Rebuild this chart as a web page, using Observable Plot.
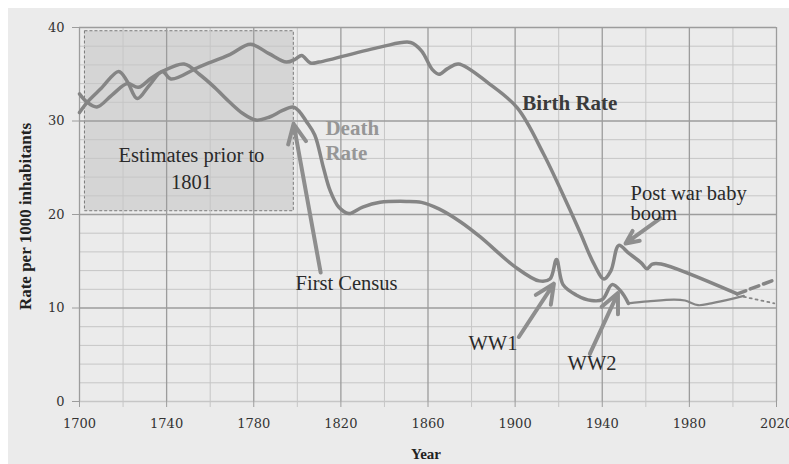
<!DOCTYPE html>
<html><head><meta charset="utf-8">
<script src="https://cdn.jsdelivr.net/npm/d3@7"></script>
<script src="https://cdn.jsdelivr.net/npm/@observablehq/plot@0.6"></script>
<style>
html,body{margin:0;padding:0;background:#fff;}
#panel{position:absolute;left:8px;top:8px;width:781px;height:456px;background:#ebebeb;overflow:hidden}
</style></head><body><div id="panel"></div>
<script>
// ---- data ----
const birthYears = [1700,1703.5,1710,1718,1722,1726.5,1732,1738,1742,1755,1769,1778.5,1787,1795,1799,1802,1806,1810,1838,1852,1857,1862,1865,1869,1874,1888,1901,1913,1924,1930,1936,1940.8,1944,1947.6,1952,1958,1960.5,1963,1967,2002];
const birthRates = [30.9,32.0,33.5,35.3,34.2,32.4,33.8,35.3,34.5,35.8,37.1,38.2,37.2,36.3,36.6,37.0,36.2,36.3,37.9,38.4,37.5,35.5,35.0,35.6,36.1,34.0,31.4,26.5,21.1,18.0,14.8,13.1,14.0,16.7,15.9,14.8,14.2,14.7,14.7,11.5];

const deathYears = [1700,1703.5,1708,1715,1722,1727,1733,1738,1748,1755,1762,1769,1775,1781,1787,1793,1798,1801,1804,1808,1812,1815,1819,1823.6,1830,1838,1850,1857,1865,1875,1884,1900,1911,1916,1919,1922,1928,1935,1940,1944.5,1948.5,1952];
const deathRates = [32.9,32.0,31.5,32.8,34.0,33.6,34.6,35.3,36.1,35.0,33.6,32.0,30.8,30.1,30.4,31.1,31.5,31.0,30.0,28.5,25.0,22.6,20.8,20.1,20.8,21.3,21.4,21.3,20.6,19.2,17.6,14.4,12.9,13.1,15.2,12.5,11.4,10.8,10.9,12.5,11.8,10.5];

const deathLateYears = [1952,1961,1973,1978,1984,1990,2000,2005];
const deathLateRates = [10.5,10.7,10.9,10.8,10.3,10.5,11.0,11.3];

const projDashYears = [2002,2020];
const projDashRates = [11.5,13.1];
const projDotYears = [2005,2019];
const projDotRates = [11.2,10.5];

const xMajorTicks = [1700,1740,1780,1820,1860,1900,1940,1980,2020];
const xMinorTicks = [1720,1760,1800,1840,1880,1920,1960,2000];
const yMajorTicks = [0,10,20,30,40];
const yMinorTicks = [2,4,6,8,12,14,16,18,22,24,26,28,32,34,36,38];

// estimates region (data coordinates)
const estYearFrom = 1702.5, estYearTo = 1798.4, estRateFrom = 20.35, estRateTo = 39.6;

// annotations
const arrowFromYear = [1810.7,1966.8,1901.7,1934.3];
const arrowFromRate = [13.8,19.6,6.9,5.1];
const arrowToYear = [1798.3,1950.7,1917.8,1947.2];
const arrowToRate = [29.7,16.9,12.6,11.6];

const centerLabels = ["Estimates prior to","1801"];
const centerYears = [1751.4,1751.4];
const centerRates = [26.3,23.4];

const noteLabels = ["First Census","Post war baby","boom","WW1","WW2"];
const noteYears = [1799.2,1953,1953,1878.6,1924.1];
const noteRates = [12.6,22.3,20.1,6.2,4.1];

const zip = (xs, ys) => xs.map((x, i) => ({x, y: ys[i]}));
const birth = zip(birthYears, birthRates);
const death = zip(deathYears, deathRates);
const deathLate = zip(deathLateYears, deathLateRates);
const projDash = zip(projDashYears, projDashRates);
const projDot = zip(projDotYears, projDotRates);
const arrows = arrowFromYear.map((x, i) => ({x1: x, y1: arrowFromRate[i], x2: arrowToYear[i], y2: arrowToRate[i]}));
const centerNotes = centerLabels.map((t, i) => ({t, x: centerYears[i], y: centerRates[i]}));
const notes = noteLabels.map((t, i) => ({t, x: noteYears[i], y: noteRates[i]}));

const serif = "'Liberation Serif', 'DejaVu Serif', serif";
const lineColor = "#858585";

const chart = Plot.plot({
  width: 781, height: 456,
  marginLeft: 71, marginRight: 13, marginTop: 19, marginBottom: 63,
  style: {background: "#ebebeb", overflow: "visible", fontFamily: "'DejaVu Serif', serif", fontSize: "13px", color: "#333"},
  x: {domain: [1700, 2020]},
  y: {domain: [0, 40]},
  marks: [
    Plot.rect([{x1: estYearFrom, x2: estYearTo, y1: estRateFrom, y2: estRateTo}],
      {x1: "x1", x2: "x2", y1: "y1", y2: "y2", fill: "#d5d5d5", stroke: "#7a7a7a", strokeWidth: 1, strokeDasharray: "3,2"}),
    Plot.ruleY(yMinorTicks, {stroke: "#c6c6c6", strokeWidth: 1}),
    Plot.ruleX(xMinorTicks, {stroke: "#c6c6c6", strokeWidth: 1, y1: 0, y2: 40}),
    Plot.ruleY([0], {stroke: "#c6c6c6", strokeWidth: 1.5}),
    Plot.ruleY(yMajorTicks.filter(d => d > 0), {stroke: "#9c9c9c", strokeWidth: 1.3}),
    Plot.ruleX(xMajorTicks, {stroke: "#9c9c9c", strokeWidth: 1.3, y1: 0, y2: 40}),
    Plot.axisX(xMinorTicks, {tickSize: 6, tickFormat: () => "", stroke: "#c6c6c6", label: null}),
    Plot.axisX(xMajorTicks, {tickSize: 6, tickPadding: 11, tickFormat: d => String(d), stroke: "#9c9c9c", fill: "#333", fontSize: 13, label: null}),
    Plot.axisY(yMajorTicks, {tickSize: 7, tickPadding: 8, stroke: "#9c9c9c", fill: "#333", fontSize: 13, label: null}),
    Plot.line(birth, {x: "x", y: "y", stroke: lineColor, strokeWidth: 3.5, curve: "catmull-rom"}),
    Plot.line(death, {x: "x", y: "y", stroke: lineColor, strokeWidth: 3.5, curve: "catmull-rom"}),
    Plot.line(deathLate, {x: "x", y: "y", stroke: lineColor, strokeWidth: 2.2, curve: "catmull-rom"}),
    Plot.line(projDash, {x: "x", y: "y", stroke: lineColor, strokeWidth: 3.5, strokeDasharray: "9,5"}),
    Plot.line(projDot, {x: "x", y: "y", stroke: lineColor, strokeWidth: 1.8, strokeDasharray: "2,4"}),
    Plot.arrow(arrows, {x1: "x1", y1: "y1", x2: "x2", y2: "y2", stroke: "#8e8e8e", strokeWidth: 4, headLength: 8, headAngle: 50}),
    Plot.text(centerNotes, {x: "x", y: "y", text: "t", fontFamily: serif, fontSize: 20.5, fill: "#2a2a2a", textAnchor: "middle", lineAnchor: "middle"}),
    Plot.text(notes, {x: "x", y: "y", text: "t", fontFamily: serif, fontSize: 20.5, fill: "#2a2a2a", textAnchor: "start", lineAnchor: "middle"}),
    Plot.text(["Death"], {x: 1812.9, y: 29.2, fontFamily: serif, fontWeight: "bold", fontSize: 21, fill: "#969696", textAnchor: "start", lineAnchor: "middle"}),
    Plot.text(["Rate"], {x: 1812.9, y: 26.6, fontFamily: serif, fontWeight: "bold", fontSize: 21, fill: "#969696", textAnchor: "start", lineAnchor: "middle"}),
    Plot.text(["Birth Rate"], {x: 1903.3, y: 31.9, fontFamily: serif, fontWeight: "bold", fontSize: 21, fill: "#3a3a3a", textAnchor: "start", lineAnchor: "middle"}),
    Plot.text(["Rate per 1000 inhabitants"], {frameAnchor: "left", dx: -54, dy: 2, rotate: -90, fontFamily: serif, fontWeight: "bold", fontSize: 17, fill: "#222", textAnchor: "middle", lineAnchor: "middle"}),
    Plot.text(["Year"], {frameAnchor: "bottom", dx: -2, dy: 53, fontFamily: serif, fontWeight: "bold", fontSize: 15, fill: "#222", textAnchor: "middle", lineAnchor: "middle"})
  ]
});
document.getElementById("panel").appendChild(chart);
</script>
</body></html>
